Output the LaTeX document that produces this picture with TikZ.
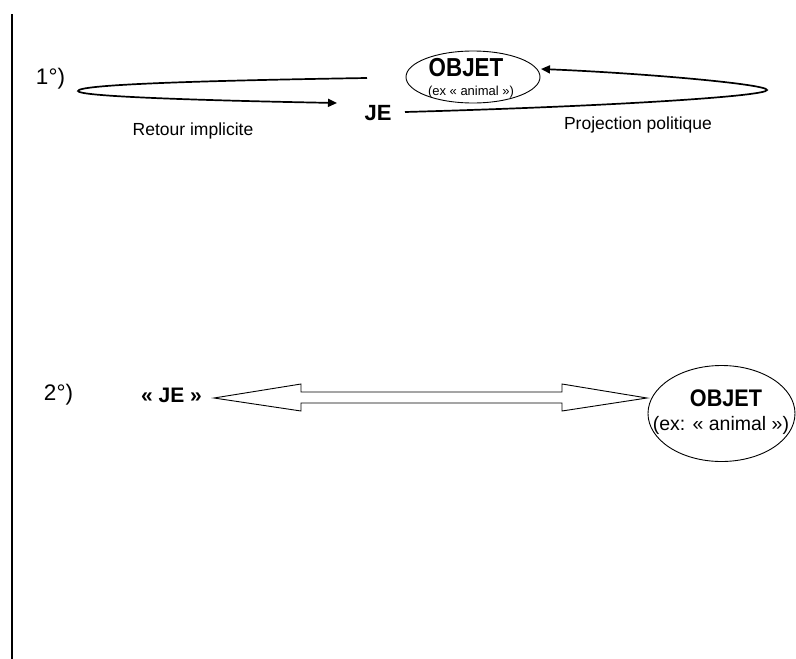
\documentclass[tikz,border=0pt]{standalone}
\usepackage{fontspec}
\setmainfont{Liberation Sans}
\usepackage{graphicx}
\usetikzlibrary{arrows.meta,calc,shapes.geometric}
\begin{document}
\begin{tikzpicture}[x=1pt,y=-1pt,
  txt/.style={inner sep=0pt},
  lbl/.style={txt, font=\fontsize{17.5}{20}\selectfont},
  num/.style={txt, font=\fontsize{22.5}{25}\selectfont},
  loopline/.style={line width=1.7pt, -{Triangle[length=9pt,width=8pt]}},
  ell/.style={draw, ellipse, line width=0.9pt, inner sep=0pt},
  hollow/.style={draw, line width=0.9pt}
]
\useasboundingbox (0,0) rectangle (796,659);
% left margin rule
\coordinate (rtop) at (12,14);
\coordinate (rbot) at (12,659);
\draw[line width=2.5pt] (rtop) -- (rbot);

% ---------- part 1 ----------
\node[num] (n1) at (50.5,79) {1°)};
\node[ell, minimum width=134pt, minimum height=52pt] (obj1) at (473,77) {};
\node[txt, font=\fontsize{26}{28}\bfseries\selectfont] (obj1t) at (466,67.5) {\scalebox{0.86}[1]{OBJET}};
\node[txt, font=\fontsize{13}{15}\selectfont] (ex1) at (471,92) {(ex « animal »)};
\node[txt, font=\fontsize{22}{24}\bfseries\selectfont] (je1) at (378,113) {JE};
\node[lbl] (ri) at (193,131) {Retour implicite};
\node[lbl] (pp) at (638,125) {Projection politique};

\coordinate (l1s) at (367,78);
\coordinate (l1e) at (337,103);
\draw[loopline] (l1s) .. controls (180,81) and (78,85) .. (78,91)
                      .. controls (78,96) and (180,100) .. (l1e);
\coordinate (r1s) at (405,112);
\coordinate (r1e) at (541,69);
\draw[loopline] (r1s) .. controls (620,106) and (767,96) .. (767,90)
                      .. controls (767,84) and (640,73) .. (r1e);

% ---------- part 2 ----------
\node[num] (n2) at (58.5,395) {2°)};
\node[txt, font=\fontsize{21}{24}\bfseries\selectfont] (je2) at (171.5,395) {« JE »};
\node[ell, minimum width=147pt, minimum height=96pt] (obj2) at (721.5,413.5) {};
\node[txt, font=\fontsize{24}{26}\bfseries\selectfont] (obj2t) at (726,398) {\scalebox{0.9}[1]{OBJET}};
\node[txt, font=\fontsize{19.5}{22}\selectfont] (ex2) at (721,425) {(ex: « animal »)};

\coordinate (da) at (214,398);
\coordinate (db) at (647,398);
\draw[hollow] (da) -- ++(87,-14) -- ++(0,8) -- ($(db)+(-85,-6)$) -- ++(0,-8)
  -- (db) -- ++(-85,13) -- ++(0,-8) -- ($(da)+(87,5)$) -- ++(0,8) -- cycle;
\end{tikzpicture}
\end{document}
